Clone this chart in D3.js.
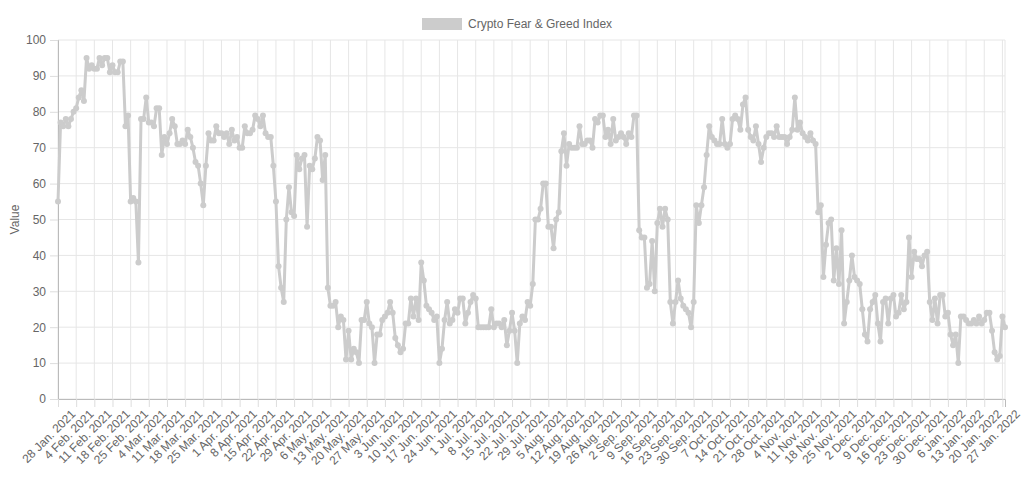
<!DOCTYPE html>
<html>
<head>
<meta charset="utf-8">
<script src="https://cdn.jsdelivr.net/npm/d3@7"></script>
<style>
  body { margin: 0; background: #fff; font-family: "Helvetica Neue", "Liberation Sans", Arial, sans-serif; }
</style>
</head>
<body>
<svg id="chart" width="1024" height="479"></svg>
<script>
// daily index values, 28 Jan 2021 .. 28 Jan 2022
const values = [
  55,77,76,78,76,78,80, 81,84,86,83,95,92,93, 92,92,95,93,95,95,91, 93,91,91,94,94,76,79,
  55,56,55,38,78,78,84, 77,77,76,81,81,68,73, 71,74,78,76,71,71,72, 71,75,73,70,66,65,60,
  54,65,74,72,72,76,74, 74,73,74,71,75,72,73, 70,70,76,74,74,75,79, 78,76,79,74,73,73,65,
  55,37,31,27,50,59,52, 51,68,64,67,68,48,65, 64,67,73,72,61,68,31, 26,26,27,20,23,22,11,
  19,11,14,13,10,22,22, 27,21,20,10,18,18,22, 23,24,27,24,17,15,13, 14,21,21,28,23,28,22,
  38,33,26,25,24,22,23, 10,14,22,27,21,22,25, 24,28,28,21,24,27,29, 28,20,20,20,20,20,25,
  20,21,21,20,22,15,19, 24,19,10,21,23,22,27, 26,32,50,50,53,60,60, 48,48,42,50,52,69,74,
  65,71,70,70,70,76,71, 71,72,72,70,78,77,79, 79,73,75,71,78,72,73, 74,73,71,74,73,79,79,
  47,45,45,31,32,44,30, 49,53,48,53,50,27,21, 27,33,28,26,25,24,20, 27,54,49,54,59,68,76,
  73,72,71,71,78,71,70, 71,78,79,78,75,82,84, 75,73,72,76,71,66,70, 73,74,74,73,76,73,73,
  73,71,73,75,84,75,77, 74,73,72,74,72,71,52, 54,34,43,49,50,33,42, 32,47,21,27,33,40,34,
  33,32,25,18,16,25,27, 29,21,16,27,28,21,28, 29,23,24,29,25,27,45, 34,41,39,39,37,40,41,
  27,22,28,21,29,29,23, 24,18,15,18,10,23,23, 22,21,21,22,21,23,21, 22,24,24,19,13,11,12,
  23,20
];
const startDate = new Date(2021, 0, 28);
const dates = values.map((v, i) => d3.timeDay.offset(startDate, i));
const yTicks = [0,10,20,30,40,50,60,70,80,90,100];
const seriesName = "Crypto Fear & Greed Index";

const margin = { top: 40, right: 19, bottom: 80, left: 58 };
const width = 1024 - margin.left - margin.right;
const height = 479 - margin.top - margin.bottom;
const lineColor = "#cccccc";

const svg = d3.select("#chart");
const g = svg.append("g").attr("transform", `translate(${margin.left},${margin.top})`);

const x = d3.scaleLinear().domain([0, values.length - 1]).range([0, width]);
const y = d3.scaleLinear().domain([0, 100]).range([height, 0]);

const tickIdx = d3.range(0, values.length, 7);
const fmt = d => `${d.getDate()} ${d3.timeFormat("%b")(d)}. ${d.getFullYear()}`;

// grid
g.append("g").selectAll("line").data(yTicks).join("line")
  .attr("x1", 0).attr("x2", width)
  .attr("y1", d => y(d)).attr("y2", d => y(d))
  .attr("stroke", "#e6e6e6");
g.append("g").selectAll("line").data(tickIdx).join("line")
  .attr("x1", d => x(d)).attr("x2", d => x(d))
  .attr("y1", 0).attr("y2", height)
  .attr("stroke", "#e6e6e6");
g.append("line").attr("x1", width).attr("x2", width).attr("y1", 0).attr("y2", height).attr("stroke", "#e6e6e6");

// axes
const yAxis = g.append("g").call(d3.axisLeft(y).tickValues(yTicks).tickSize(8).tickPadding(4));
yAxis.select(".domain").attr("stroke", "#bbb");
yAxis.selectAll(".tick line").attr("stroke", "#ddd");
yAxis.selectAll("text").attr("fill", "#666").attr("font-size", 12).attr("font-family", "Helvetica Neue, Liberation Sans, Arial, sans-serif");

const xAxis = g.append("g").attr("transform", `translate(0,${height})`)
  .call(d3.axisBottom(x).tickValues(tickIdx).tickFormat(i => fmt(dates[i])).tickSize(8));
xAxis.select(".domain").attr("stroke", "#bbb");
xAxis.selectAll(".tick line").attr("stroke", "#ddd");
xAxis.selectAll("text")
  .attr("fill", "#666").attr("font-size", 12).attr("font-family", "Helvetica Neue, Liberation Sans, Arial, sans-serif")
  .attr("text-anchor", "end")
  .attr("transform", "translate(4,2) rotate(-45)")
  .attr("dy", "0.7em");

svg.append("text")
  .attr("transform", `translate(19,${margin.top + height / 2}) rotate(-90)`)
  .attr("text-anchor", "middle")
  .attr("fill", "#666").attr("font-size", 12)
  .text("Value");

// line + points
const line = d3.line().x((d, i) => x(i)).y(d => y(d));
g.append("path").datum(values)
  .attr("fill", "none").attr("stroke", lineColor).attr("stroke-width", 3)
  .attr("stroke-linejoin", "round").attr("d", line);
g.append("g").selectAll("circle").data(values).join("circle")
  .attr("cx", (d, i) => x(i)).attr("cy", d => y(d)).attr("r", 3)
  .attr("fill", lineColor);

// legend
const legend = svg.append("g").attr("transform", "translate(422,18)");
legend.append("rect").attr("width", 40).attr("height", 12).attr("fill", lineColor);
legend.append("text").attr("x", 46).attr("y", 10).attr("fill", "#666").attr("font-size", 12).text(seriesName);
</script>
</body>
</html>
